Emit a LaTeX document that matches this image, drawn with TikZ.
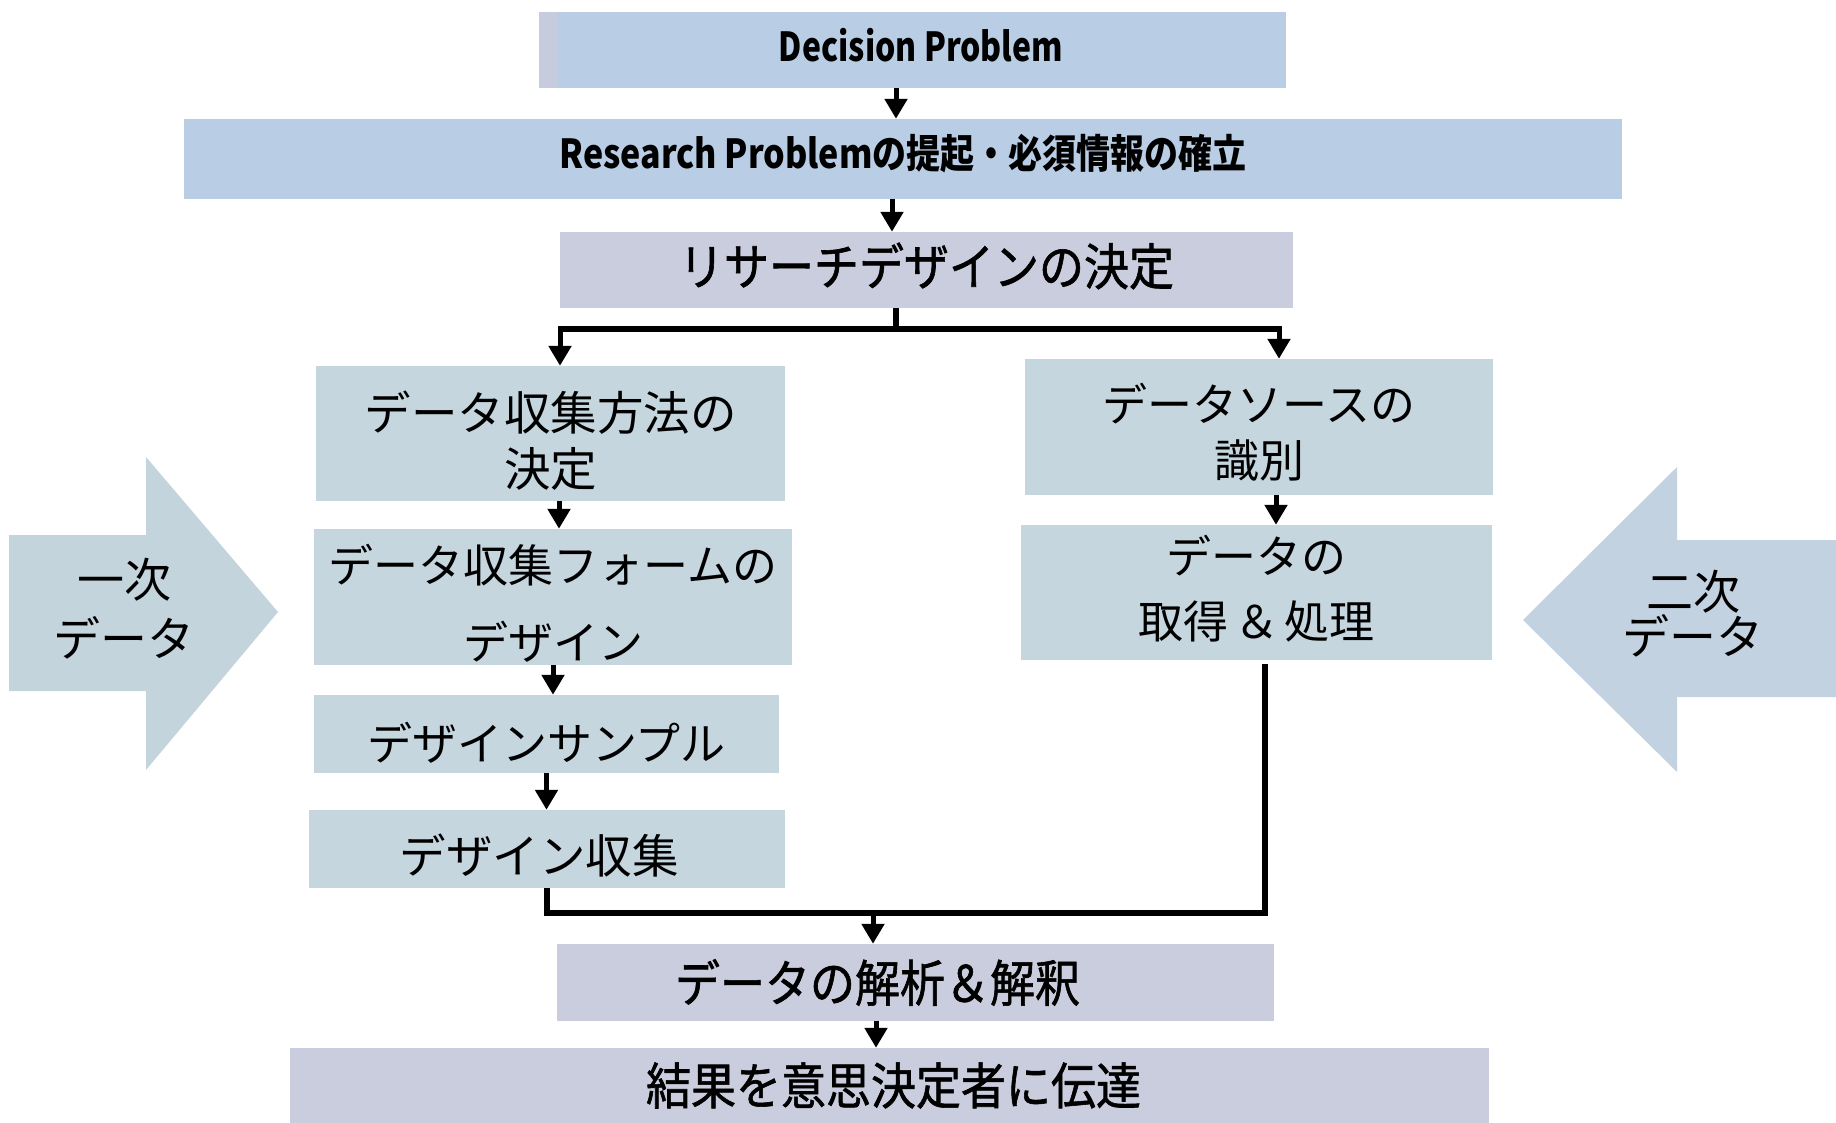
\documentclass[tikz,border=0pt]{standalone}
\usepackage{fontspec}
\setmainfont{Noto Sans CJK JP}
\newfontfamily\jpc[FakeStretch=0.85]{Noto Sans CJK JP}
\newfontfamily\jpcc[FakeStretch=0.8]{Noto Sans CJK JP}
\newfontfamily\jpm[FakeStretch=0.9,FakeBold=1.2]{Noto Sans CJK JP}
\usetikzlibrary{arrows.meta}
\definecolor{topblue}{RGB}{185,205,229}
\definecolor{topstrip}{RGB}{198,203,222}
\definecolor{lav}{RGB}{202,205,221}
\definecolor{colbox}{RGB}{197,214,223}
\definecolor{bigarrL}{RGB}{196,212,221}
\definecolor{bigarrR}{RGB}{194,210,225}
\begin{document}
\begin{tikzpicture}[x=1pt,y=-1pt,
  box/.style={inner sep=0pt},
  txt/.style={inner sep=0pt, align=center, text=black},
  topbox/.style={box, fill=topblue},
  lavbox/.style={box, fill=lav},
  colb/.style={box, fill=colbox},
  lavtxt/.style={txt, font=\jpm\fontsize{50}{60}\selectfont},
  conn/.style={line width=5pt, -{Triangle[width=22pt,length=20pt]}},
  wire/.style={line width=6.5pt, line join=miter}]
\useasboundingbox (0,0) rectangle (1836,1123);
\fill[white] (0,0) rectangle (1836,1123);

% big side arrows
\fill[bigarrL] (9,535) -- (146,535) -- (146,457) -- (278,612) -- (146,770) -- (146,691) -- (9,691) -- cycle;
\node[txt, font=\fontsize{47}{59}\selectfont] (prim) at (124,609) {一次\\データ};
\fill[bigarrR] (1836,540) -- (1677,540) -- (1677,467) -- (1523,620) -- (1677,772) -- (1677,697) -- (1836,697) -- cycle;
\node[txt, font=\fontsize{47}{43}\selectfont] (sec) at (1693,614) {二次\\データ};

% boxes
\node[topbox, minimum width=747pt, minimum height=76pt] (dp) at (912.5,50) {};
\fill[topstrip] (dp.north west) rectangle ([xshift=18pt]dp.south west);
\node[txt, font=\jpcc\bfseries\fontsize{40}{48}\selectfont] (dpt) at ([xshift=8.5pt,yshift=5pt]dp.center) {Decision Problem};
\node[topbox, minimum width=1438pt, minimum height=80pt] (rp) at (903,159) {};
\node[txt, font=\jpc\bfseries\fontsize{40}{48}\selectfont] (rpt) at ([yshift=5pt]rp.center) {Research Problemの提起・必須情報の確立};
\node[lavbox, minimum width=733pt, minimum height=76pt] (rd) at (926.5,270) {};
\node[lavtxt] (rdt) at ([yshift=4pt]rd.center) {リサーチデザインの決定};

\node[colb, minimum width=469pt, minimum height=135pt] (l1) at (550.5,433.5) {};
\node[txt, font=\fontsize{46.5}{56}\selectfont] (l1t) at ([yshift=-7pt]l1.center) {データ収集方法の\\決定};
\node[colb, minimum width=478pt, minimum height=136pt] (l2) at (553,597) {};
\node[txt, font=\fontsize{45}{77}\selectfont] (l2t) at ([yshift=-6pt]l2.center) {データ収集フォームの\\デザイン};
\node[colb, minimum width=465pt, minimum height=78pt] (l3) at (546.5,734) {};
\node[txt, font=\fontsize{45}{55}\selectfont] (l3t) at ([yshift=-9pt]l3.center) {デザインサンプル};
\node[colb, minimum width=476pt, minimum height=78pt] (l4) at (547,849) {};
\node[txt, font=\fontsize{46.5}{55}\selectfont] (l4t) at ([xshift=-8pt,yshift=-7pt]l4.center) {デザイン収集};

\node[colb, minimum width=468pt, minimum height=136pt] (r1) at (1259,427) {};
\node[txt, font=\fontsize{45}{56}\selectfont] (r1t) at ([yshift=-5pt]r1.center) {データソースの\\識別};
\node[colb, minimum width=471pt, minimum height=135pt] (r2) at (1256.5,592.5) {};
\node[txt, font=\fontsize{45}{65}\selectfont] (r2t) at ([yshift=4pt]r2.center) {データの\\取得\hspace{6pt}＆\hspace{6pt}処理};

\node[lavbox, minimum width=717pt, minimum height=77pt] (an) at (915.5,982.5) {};
\node[lavtxt] (ant) at ([xshift=-38pt]an.center) {データの解析＆解釈};
\node[lavbox, minimum width=1199pt, minimum height=75pt] (res) at (889.5,1085.5) {};
\node[lavtxt] (rest) at ([xshift=4pt]res.center) {結果を意思決定者に伝達};

% connectors
\draw[conn] ([xshift=-16.5pt]dp.south) -- ([xshift=-16.5pt]dp.south |- rp.north);
\draw[conn] ([xshift=-11pt]rp.south) -- ([xshift=-11pt]rp.south |- rd.north);

\coordinate (j1) at (896,329);
\coordinate (bl) at (560,329);
\coordinate (br) at (1279,329);
\draw[wire] (rd.south -| j1) -- (j1);
\draw[wire] (bl) -- (br);
\draw[conn] ([yshift=3pt]bl) -- (bl |- l1.north);
\draw[conn] ([yshift=3pt]br) -- (br |- r1.north);

\draw[conn] ([xshift=8.5pt]l1.south) -- ([xshift=8.5pt]l1.south |- l2.north);
\draw[conn] (l2.south) -- (l2.south |- l3.north);
\draw[conn] (l3.south) -- (l3.south |- l4.north);
\draw[conn] ([xshift=17pt]r1.south) -- ([xshift=17pt]r1.south |- r2.north);

\coordinate (m1) at (547,913);
\coordinate (m2) at (1265,913);
\coordinate (m3) at (873,913);
\draw[wire] (l4.south) -- (m1) -- (m2) -- ([yshift=-4pt]m2 |- r2.south);
\draw[conn] (m3) -- (m3 |- an.north);
\draw[conn] ([xshift=-39.5pt]an.south) -- ([xshift=-39.5pt]an.south |- res.north);
\end{tikzpicture}
\end{document}
